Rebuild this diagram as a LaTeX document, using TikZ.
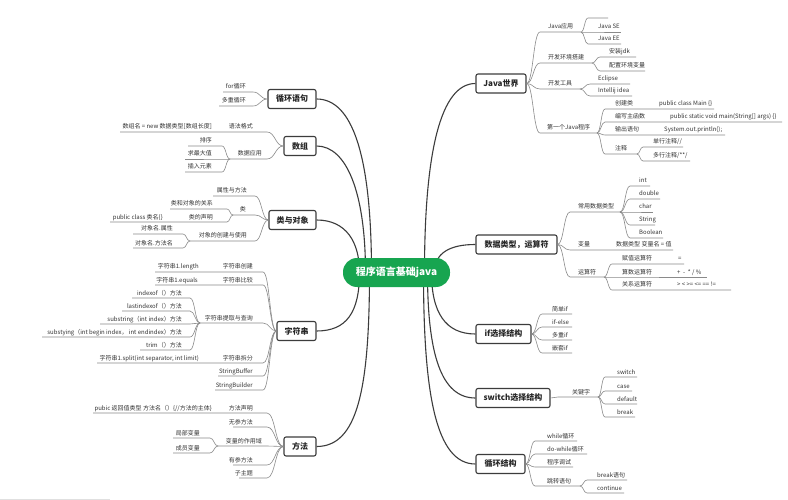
\documentclass[tikz,border=0pt]{standalone}
\usepackage{fontspec}
\setmainfont{Noto Sans CJK SC}
\usetikzlibrary{calc,backgrounds}
\definecolor{gr}{HTML}{17A550}
\definecolor{brc}{HTML}{8A8A8A}
\definecolor{txt}{HTML}{333333}
\definecolor{mcol}{HTML}{3C3C3C}
% right-side branch: parent, name, xs, xe, y, text x, text
\newcommand\rbr[7]{%
  \coordinate (#2s) at (#3,#5);
  \coordinate (#2e) at (#4,#5);
  \node[lf,anchor=base west] (#2) at (#6,#5-3) {#7};
  \draw[br] let \p1=(#1), \p2=(#2s) in (#1) .. controls ({(\x1+\x2)/2},\y1) and ({(\x1+\x2)/2},\y2) .. (#2s) -- (#2e);
}
% left-side branch: parent, name, xs, xe, y, text right x, text
\newcommand\lbr[7]{%
  \coordinate (#2s) at (#3,#5);
  \coordinate (#2e) at (#4,#5);
  \node[lf,anchor=base east] (#2) at (#6,#5-3) {#7};
  \draw[br] let \p1=(#1), \p2=(#2e) in (#1) .. controls ({(\x1+\x2)/2},\y1) and ({(\x1+\x2)/2},\y2) .. (#2e) -- (#2s);
}
% extra text on a line: name, x, y, text, anchor side
\newcommand\xtxt[5]{\node[lf,anchor=base #5] (#1) at (#2,#3-3) {#4};}
\begin{document}
\begin{tikzpicture}[x=1pt,y=-1pt,
  lf/.style={font=\fontsize{6}{7}\selectfont,text=txt,inner sep=0pt},
  br/.style={draw=brc,line width=0.6pt},
  mbox/.style={draw=mcol,line width=1.1pt,rounded corners=2pt,fill=white,
    font=\fontsize{8}{9}\selectfont\bfseries,text=black!85,minimum height=19pt,inner sep=0pt},
  ctr/.style={fill=gr,rounded corners=14pt,minimum width=107pt,minimum height=29pt,
    font=\fontsize{10}{12}\selectfont\bfseries,text=white,inner sep=0pt},
  link/.style={draw=mcol,line width=1.1pt}]
\useasboundingbox (0,0) rectangle (788,500);

% main nodes
\node[ctr] (c) at (396.5,272.5) {程序语言基础java};
\node[mbox,minimum width=50pt] (R1) at (501,83.5) {Java世界};
\node[mbox,minimum width=81pt] (R2) at (516.5,244.5) {数据类型，运算符};
\node[mbox,minimum width=55pt] (R3) at (503.5,334) {if选择结构};
\node[mbox,minimum width=74pt] (R4) at (513,398) {switch选择结构};
\node[mbox,minimum width=49pt] (R5) at (500.5,464) {循环结构};
\node[mbox,minimum width=48pt] (L1) at (292,99) {循环语句};
\node[mbox,minimum width=32pt] (L2) at (300,146) {数组};
\node[mbox,minimum width=47pt] (L3) at (292.5,220) {类与对象};
\node[mbox,minimum width=39pt] (L4) at (296.5,331) {字符串};
\node[mbox,minimum width=32pt] (L5) at (300,446.5) {方法};

\begin{pgfonlayer}{background}
\fill[white] (0,0) rectangle (788,500);
\draw[link] (L1.east) .. controls +(35,0) and +(0,-120) .. ([xshift=-25pt]c.center);
\draw[link] (L2.east) .. controls +(30,0) and +(0,-80) .. ([xshift=-31pt]c.center);
\draw[link] (L3.east) .. controls +(30,0) and +(0,-30) .. ([xshift=-37pt]c.center);
\draw[link] (L4.east) .. controls +(30,0) and +(0,40) .. ([xshift=-37pt]c.center);
\draw[link] (L5.east) .. controls +(40,0) and +(0,120) .. ([xshift=-27pt]c.center);
\draw[link] (R1.west) .. controls +(-35,0) and +(0,-120) .. ([xshift=28pt]c.center);
\draw[link] (R2.west) .. controls +(-25,0) and +(0,-20) .. ([xshift=38pt]c.center);
\draw[link] (R3.west) .. controls +(-30,0) and +(0,40) .. ([xshift=35pt]c.center);
\draw[link] (R4.west) .. controls +(-35,0) and +(0,80) .. ([xshift=31pt]c.center);
\draw[link] (R5.west) .. controls +(-40,0) and +(0,120) .. ([xshift=27pt]c.center);
\end{pgfonlayer}

% Java世界
\rbr{R1.east}{ja}{540}{581}{32}{548}{Java应用}
\rbr{jae}{jz}{588}{608}{18}{598}{}
\rbr{jae}{jse}{588}{621}{32}{598}{Java SE}
\rbr{jae}{jee}{588}{621}{44}{598}{Java EE}
\rbr{R1.east}{env}{540}{592}{63}{548}{开发环境搭建}
\rbr{enve}{jdk}{600}{636}{57}{609}{安装jdk}
\rbr{enve}{cfg}{600}{645}{71}{609}{配置环境变量}
\rbr{R1.east}{tool}{540}{580}{89}{548}{开发工具}
\rbr{toole}{ecl}{590}{630}{84}{598}{Eclipse}
\rbr{toole}{idea}{590}{632}{96}{598}{Intellij idea}
\rbr{R1.east}{fst}{540}{597}{133}{547}{第一个Java程序}
\rbr{fste}{cls}{605}{714}{109}{615}{创建类}
\xtxt{clsx}{659}{109}{public class Main \{\}}{west}
\rbr{fste}{mainf}{605}{782}{122}{615}{编写主函数}
\xtxt{mainx}{670}{122}{public static void main(String[] args) \{\}}{west}
\rbr{fste}{outp}{605}{725}{135}{615}{输出语句}
\xtxt{outx}{664}{135}{System.out.println();}{west}
\rbr{fste}{cmt}{605}{637}{154}{615}{注释}
\rbr{cmte}{cma}{643}{683}{147}{653}{单行注释//}
\rbr{cmte}{cmb}{643}{690}{161}{653}{多行注释/**/}

% 数据类型，运算符
\rbr{R2.east}{cdt}{570}{620}{212}{578}{常用数据类型}
\rbr{cdte}{tint}{630}{650}{186}{639}{int}
\rbr{cdte}{tdbl}{630}{660}{199}{639}{double}
\rbr{cdte}{tchr}{630}{653}{212}{639}{char}
\rbr{cdte}{tstr}{630}{655}{225}{639}{String}
\rbr{cdte}{tbool}{630}{663}{238}{639}{Boolean}
\rbr{R2.east}{var}{570}{673}{250}{578}{变量}
\xtxt{varx}{616}{250}{数据类型 变量名 = 值}{west}
\rbr{R2.east}{ops}{570}{604}{277}{578}{运算符}
\rbr{opse}{opa}{612}{684}{264}{622}{赋值运算符}
\xtxt{opax}{678}{264}{=}{west}
\rbr{opse}{opb}{612}{707}{277}{622}{算数运算符}
\xtxt{opbx}{677}{277}{+ \ - \ * / \%}{west}
\rbr{opse}{opc}{612}{731}{290}{622}{关系运算符}
\xtxt{opcx}{677}{290}{> < >= <= == !=}{west}

% if选择结构
\rbr{R3.east}{ifa}{542}{572}{314}{552}{简单if}
\rbr{R3.east}{ifb}{542}{572}{327}{552}{if-else}
\rbr{R3.east}{ifc}{542}{572}{340}{552}{多重if}
\rbr{R3.east}{ifd}{542}{572}{353}{552}{嵌套if}

% switch选择结构
\rbr{R4.east}{kw}{558}{598}{397}{572}{关键字}
\rbr{kwe}{swa}{605}{637}{377}{617}{switch}
\rbr{kwe}{swb}{605}{632}{391}{617}{case}
\rbr{kwe}{swc}{605}{637}{404}{617}{default}
\rbr{kwe}{swd}{605}{635}{417}{617}{break}

% 循环结构
\rbr{R5.east}{lpa}{535}{577}{441}{547}{while循环}
\rbr{R5.east}{lpb}{535}{587}{454}{547}{do-while循环}
\rbr{R5.east}{lpc}{535}{573}{467}{547}{程序调试}
\rbr{R5.east}{lpd}{535}{580}{486}{547}{跳转语句}
\rbr{lpde}{jpa}{587}{627}{480}{597}{break语句}
\rbr{lpde}{jpb}{587}{624}{493}{597}{continue}

% 循环语句
\lbr{L1.west}{for}{223}{253}{92}{246}{for循环}
\lbr{L1.west}{mfor}{219}{253}{106}{246}{多重循环}

% 数组
\lbr{L2.west}{syn}{120}{267}{132}{253}{语法格式}
\xtxt{synx}{212}{132}{数组名 = new 数据类型[数组长度]}{east}
\lbr{L2.west}{app}{230}{267}{159}{262}{数据应用}
\lbr{apps}{srt}{188}{222}{146}{212}{排序}
\lbr{apps}{amax}{185}{222}{159}{212}{求最大值}
\lbr{apps}{ains}{185}{222}{172}{212}{插入元素}

% 类与对象
\lbr{L3.west}{am}{213}{255}{196}{247}{属性与方法}
\lbr{L3.west}{lei}{233}{255}{215}{246}{类}
\lbr{leis}{rel}{170}{227}{209}{213}{类和对象的关系}
\lbr{leis}{decl}{110}{227}{222}{213}{类的声明}
\xtxt{declx}{163}{222}{public class 类名\{\}}{east}
\lbr{L3.west}{obj}{190}{255}{241}{247}{对象的创建与使用}
\lbr{objs}{oa}{133}{183}{234}{173}{对象名.属性}
\lbr{objs}{ob}{133}{183}{248}{173}{对象名.方法名}

% 字符串
\lbr{L4.west}{sc}{155}{263}{272}{253}{字符串创建}
\xtxt{scx}{199}{272}{字符串1.length}{east}
\lbr{L4.west}{scmp}{155}{263}{285}{253}{字符串比较}
\xtxt{scmpx}{198}{285}{字符串1.equals}{east}
\lbr{L4.west}{sq}{200}{263}{323}{253}{字符串提取与查询}
\lbr{sqs}{ma}{132}{190}{298}{182}{indexof（）方法}
\lbr{sqs}{mb}{122}{190}{311}{182}{lastindexof（）方法}
\lbr{sqs}{mc}{100}{190}{324}{182}{substring（int index）方法}
\lbr{sqs}{md}{42}{190}{337}{182}{substying（int begin index， int endindex）方法}
\lbr{sqs}{me}{140}{190}{350}{182}{trim（）方法}
\lbr{L4.west}{ssp}{97}{263}{363}{253}{字符串拆分}
\xtxt{sspx}{199}{363}{字符串1.split(int separator, int limit)}{east}
\lbr{L4.west}{sbf}{218}{263}{376}{253}{StringBuffer}
\lbr{L4.west}{sbd}{215}{263}{390}{253}{StringBuilder}

% 方法
\lbr{L5.west}{mdl}{93}{267}{413}{253}{方法声明}
\xtxt{mdlx}{212}{413}{pubic 返回值类型 方法名（）\{//方法的主体\}}{east}
\lbr{L5.west}{np}{233}{267}{427}{253}{无参方法}
\lbr{L5.west}{vsc}{218}{267}{446}{262}{变量的作用域}
\lbr{vscs}{lv}{173}{210}{438}{200}{局部变量}
\lbr{vscs}{mv}{173}{210}{453}{200}{成员变量}
\lbr{L5.west}{hp}{233}{267}{465}{253}{有参方法}
\lbr{L5.west}{sub}{239}{267}{478}{253}{子主题}

\draw[black!12,line width=1pt] (0,499) -- (110,499);
\end{tikzpicture}
\end{document}
